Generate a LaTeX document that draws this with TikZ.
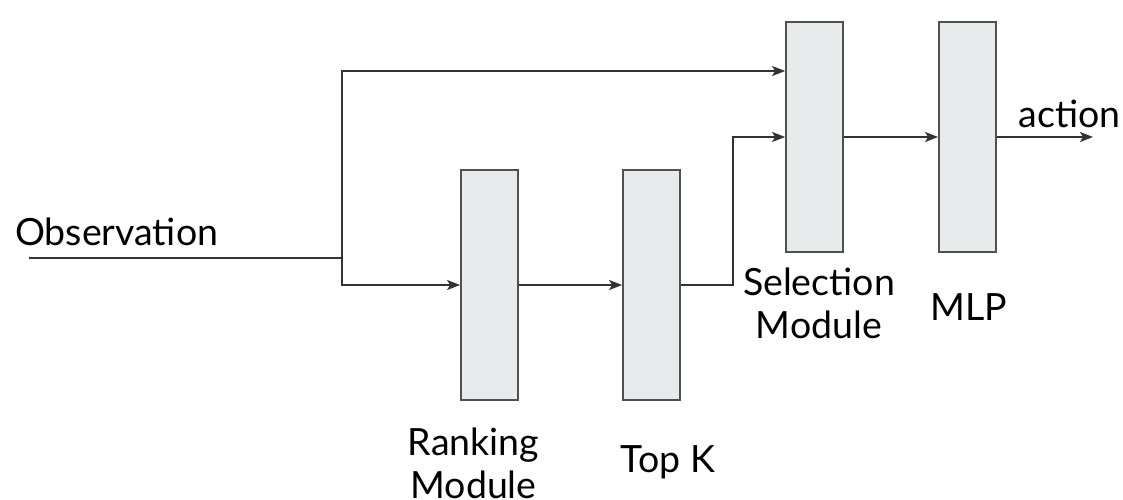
\documentclass[tikz,border=0pt]{standalone}
\usepackage{fontspec}
\setmainfont{Lato}
\usetikzlibrary{arrows.meta}
\definecolor{boxfill}{HTML}{E8EBEC}
\definecolor{boxline}{HTML}{505050}
\definecolor{wire}{HTML}{333333}
\begin{document}
\begin{tikzpicture}[x=1pt,y=-1pt,
  blk/.style={draw=boxline,fill=boxfill,line width=1.8pt,minimum width=57pt,minimum height=230pt,inner sep=0pt},
  wirestyle/.style={draw=wire,line width=1.6pt},
  arr/.style={wirestyle,-{Stealth[length=13pt,width=10pt,inset=3pt]}},
  lbl/.style={font=\fontsize{37.5}{43}\selectfont,inner sep=0pt,anchor=base}]
\useasboundingbox (0,0) rectangle (1123,500);
\node[blk] (rank) at (489.5,285) {};
\node[blk] (topk) at (651.5,285) {};
\node[blk] (sel) at (814.5,137) {};
\node[blk] (mlp) at (967.5,137) {};
\coordinate (obs) at (29,258);
\coordinate (split) at (342,258);
\coordinate (act) at (1093,137);
\node[lbl,anchor=base west] (obslbl) at (15,245) {Observation};
\node[lbl] (actlbl) at (1069.5,128) {action};
\node[lbl] (sellbl) at (819,295) {Selection};
\node[lbl] (sellbl2) at (819,338) {Module};
\node[lbl] (mlplbl) at (969,320) {MLP};
\node[lbl] (ranklbl) at (473.5,455) {Ranking};
\node[lbl] (ranklbl2) at (473.5,498) {Module};
\node[lbl] (topklbl) at (668,472) {Top K};
\draw[wirestyle] (obs) -- (split);
\draw[arr] (split) |- ([yshift=66pt]sel.west);
\draw[arr] (split) |- (rank.west);
\draw[arr] (rank) -- (topk);
\draw[arr] (topk.east) -- (733,285) |- (sel.west);
\draw[arr] (sel) -- (mlp);
\draw[arr] (mlp) -- (act);
\end{tikzpicture}
\end{document}
